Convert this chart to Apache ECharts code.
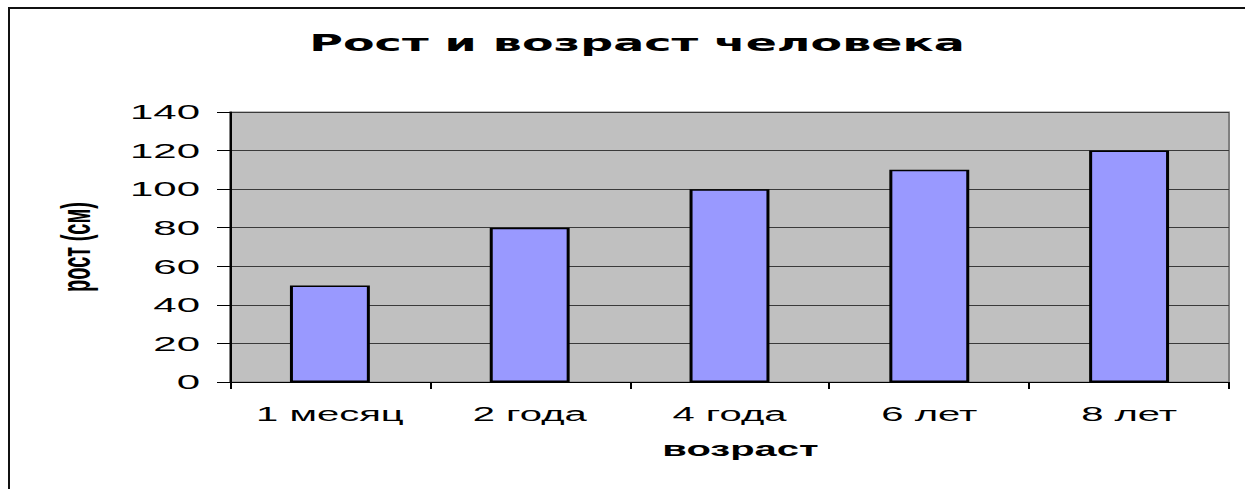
<!DOCTYPE html>
<html>
<head>
<meta charset="utf-8">
<script src="https://cdn.jsdelivr.net/npm/echarts@6/dist/echarts.min.js"></script>
<style>
html,body{margin:0;padding:0;background:#fff;overflow:hidden;}
#chart{width:622.5px;height:489px;transform:scaleX(2);transform-origin:0 0;}
</style>
</head>
<body>
<div id="chart"></div>
<script>
const titleText = 'Рост и возраст человека';
const categories = ['1 месяц', '2 года', '4 года', '6 лет', '8 лет'];
const heights = [50, 80, 100, 110, 120];
const xAxisName = 'возраст';
const yAxisName = 'рост (см)';

const chart = echarts.init(document.getElementById('chart'), null, {renderer: 'svg'});
const FONT = 'Liberation Sans';
chart.setOption({
  animation: false,
  title: {
    text: titleText,
    left: 313.5,
    textAlign: 'center',
    top: 27,
    textStyle: {fontFamily: 'DejaVu Sans', fontSize: 23, fontWeight: 'bold', color: '#000'}
  },
  graphic: [
    {type: 'line', shape: {x1: 4.5, y1: 8, x2: 4.5, y2: 489}, style: {stroke: '#111', lineWidth: 1}},
    {type: 'line', shape: {x1: 4, y1: 8, x2: 622.5, y2: 8}, style: {stroke: '#111', lineWidth: 2}}
  ],
  grid: {
    left: 115, right: 8.5, top: 112, bottom: 107,
    show: true, backgroundColor: '#C0C0C0', borderColor: '#808080', borderWidth: 1
  },
  xAxis: {
    type: 'category',
    data: categories,
    name: xAxisName,
    nameLocation: 'middle',
    nameGap: 57,
    nameTextStyle: {fontFamily: FONT, fontSize: 20, fontWeight: 'bold', color: '#000', padding: [0, 0, 0, 11]},
    axisLine: {lineStyle: {color: '#000', width: 1}},
    axisTick: {show: true, length: 7, lineStyle: {color: '#000'}},
    axisLabel: {interval: 0, margin: 22, fontFamily: FONT, fontSize: 20, color: '#000'}
  },
  yAxis: {
    type: 'value',
    min: 0, max: 140, interval: 20,
    name: yAxisName,
    nameLocation: 'middle',
    nameGap: 67,
    nameRotate: 90,
    nameTextStyle: {fontFamily: FONT, fontSize: 20, fontWeight: 'bold', color: '#000'},
    axisLine: {show: true, lineStyle: {color: '#000', width: 1}},
    axisTick: {show: true, length: 6.5, lineStyle: {color: '#000'}},
    axisLabel: {margin: 15, fontFamily: FONT, fontSize: 21, color: '#000'},
    splitLine: {show: true, lineStyle: {color: '#3a3a3a', width: 1}}
  },
  series: [{
    type: 'bar',
    data: heights,
    barWidth: '40%',
    itemStyle: {color: '#9999FF', borderColor: '#000', borderWidth: 1.5}
  }]
});
</script>
</body>
</html>
